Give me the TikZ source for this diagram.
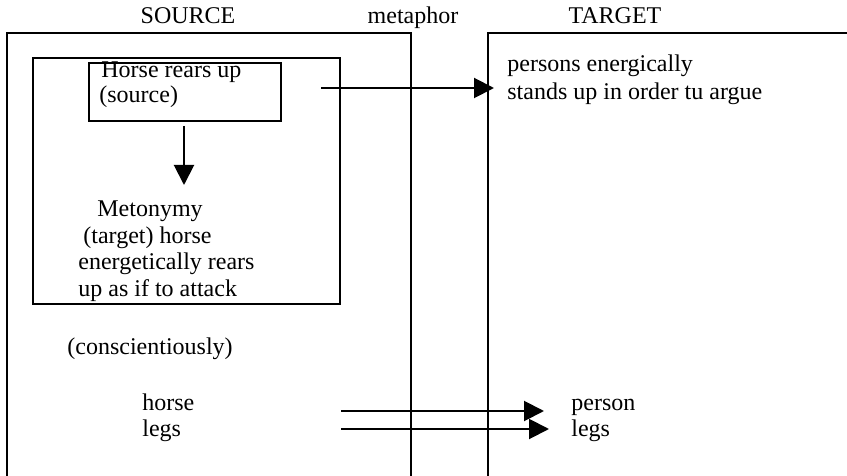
\documentclass[tikz,border=0pt]{standalone}
\usepackage{fontspec}
\setmainfont{Liberation Serif}
\usetikzlibrary{arrows.meta}
\begin{document}
\begin{tikzpicture}[x=0.5pt,y=-0.5pt,
  frame/.style={line width=1.1pt},
  txt/.style={anchor=base west,inner sep=0pt,font=\fontsize{12}{13}\selectfont},
  ttl/.style={anchor=base,inner sep=0pt,font=\fontsize{12}{13}\selectfont},
  conn/.style={line width=1pt,-{Triangle[length=10pt,width=10pt]}}]
\useasboundingbox (0,0) rectangle (847,476);
% titles
\node[ttl] (src) at (188,24) {SOURCE};
\node[ttl] (met) at (413,24) {metaphor};
\node[ttl] (tgt) at (615,24) {TARGET};
% outer frames (open at the bottom / right edge)
\draw[frame] (7,480) |- (411,33) -- (411,480);
\draw[frame] (488,480) |- (850,33);
% inner box
\node[draw,frame,anchor=north west,minimum width=153.5pt,minimum height=123pt,inner sep=0pt] (inner) at (32,57) {};
% horse rears up box
\node[draw,frame,anchor=north west,minimum width=96pt,minimum height=29pt,inner sep=0pt] (hbox) at (88,62) {};
\node[txt] (h1) at (101,78) {Horse rears up};
\node[txt] (h2) at (99,103) {(source)};
% metonymy text
\node[txt] (m1) at (97,217) {Metonymy};
\node[txt] (m2) at (83,243) {(target) horse};
\node[txt] (m3) at (78,270) {energetically rears};
\node[txt] (m4) at (78,296) {up as if to attack};
\node[txt] (c1) at (67,354) {(conscientiously)};
\node[txt] (hs) at (142,410) {horse};
\node[txt] (hl) at (142,436) {legs};
% target text
\node[txt] (t1) at (507,72) {persons energically};
\node[txt] (t2) at (507,100) {stands up in order tu argue};
\node[txt] (ps) at (571,410) {person};
\node[txt] (pl) at (571,436) {legs};
% connectors
\coordinate (d0) at (184,126);
\coordinate (d1) at (184,185);
\draw[conn] (d0) -- (d1);
\coordinate (a0) at (321,88);
\coordinate (a1) at (494,88);
\draw[conn] (a0) -- (a1);
\coordinate (b0) at (341,411);
\coordinate (b1) at (544,411);
\draw[conn] (b0) -- (b1);
\coordinate (c0) at (341,429);
\coordinate (c1e) at (549,429);
\draw[conn] (c0) -- (c1e);
\end{tikzpicture}
\end{document}
